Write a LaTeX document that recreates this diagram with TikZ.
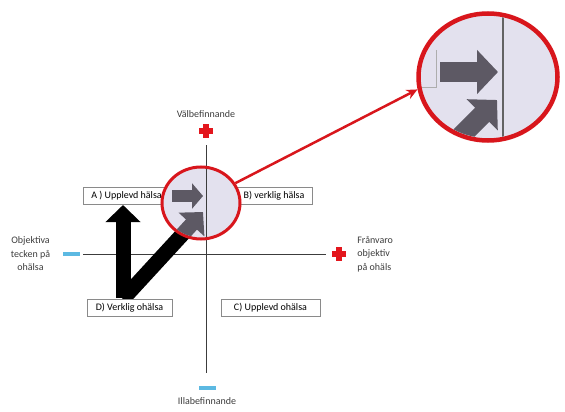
\documentclass[tikz,border=0pt]{standalone}
\usepackage{fontspec}
\setmainfont{Carlito}
\usepackage{tikz}
\usetikzlibrary{positioning, arrows.meta, shapes.geometric}
\definecolor{inkAxis}{HTML}{3C3C3C}
\definecolor{boxGray}{HTML}{8A8A8A}
\definecolor{crossRed}{HTML}{E3161D}
\definecolor{minusBlue}{HTML}{5CB9E2}
\definecolor{lensRed}{HTML}{D8161C}
\definecolor{lensFill}{HTML}{E3E1EE}
\definecolor{arrowGray}{HTML}{5D5964}
\tikzset{
  axis/.style={inkAxis, line width=1pt},
  quadbox/.style={rectangle, draw=boxGray, fill=white, line width=0.7pt,
    minimum height=17pt, inner sep=1pt, font=\fontsize{10}{12}\selectfont},
  axislabel/.style={font=\fontsize{10}{13.5}\selectfont, align=center,
    inner sep=0pt, text=inkAxis},
  plussign/.style={minimum size=14pt, inner sep=0pt,
    path picture={
      \fill[crossRed] ([shift={(-7pt,-2.6pt)}]path picture bounding box.center)
        rectangle ([shift={(7pt,2.6pt)}]path picture bounding box.center);
      \fill[crossRed] ([shift={(-2.6pt,-7pt)}]path picture bounding box.center)
        rectangle ([shift={(2.6pt,7pt)}]path picture bounding box.center);
    }},
  minussign/.style={rectangle, fill=minusBlue, minimum width=17pt,
    minimum height=4pt, inner sep=0pt},
  lens/.style={ellipse, draw=lensRed, fill=lensFill, line width=3pt,
    inner sep=0pt},
  bigarrow/.style={line width=15pt, -{Triangle[length=17pt, width=34pt]}},
  zoomarrow/.style={arrowGray, line width=20pt,
    -{Triangle[length=21pt, width=43pt]}},
  zoomline/.style={lensRed, line width=2.5pt,
    -{Stealth[length=11pt, width=10pt]}},
}

\begin{document}
\begin{tikzpicture}[x=1pt, y=-1pt]
    \useasboundingbox (0,0) rectangle (565,412);
    % axes
    \coordinate (yTop) at (206,145);
    \coordinate (yBot) at (206,373);
    \coordinate (xLeft) at (83,254);
    \coordinate (xRight) at (326,254);
    \draw[axis] (yTop) -- (yBot);
    \draw[axis] (xLeft) -- (xRight);

    % signs and their labels
    \node[plussign] (plusTop) at (206,131) {};
    \node[axislabel, above=6pt of plusTop] (wellLbl) {Välbefinnande};
    \node[minussign] (minusBot) at (207,388) {};
    \node[axislabel, below=7pt of minusBot] (illLbl) {Illabefinnande};
    \node[minussign] (minusLeft) at (71,254) {};
    \node[axislabel, left=12pt of minusLeft] (objLbl)
      {Objektiva\\tecken på\\ohälsa};
    \node[plussign] (plusRight) at (339,254) {};
    \node[axislabel, right=11pt of plusRight, align=left] (absLbl)
      {Frånvaro\\objektiv\\på ohäls};

    % quadrant boxes
    \node[quadbox, minimum width=87pt] (boxA) at (126.5,196) {A ) Upplevd hälsa};
    \node[quadbox, minimum width=76pt] (boxB) at (274,196) {B) verklig hälsa};

    % black arrows
    \coordinate (vStart) at (123,298);
    \coordinate (vTip) at (123,205);
    \coordinate (dStart) at (123,299);
    \coordinate (dTip) at (203,212);
    \draw[bigarrow] (vStart) -- (vTip);
    \draw[bigarrow] (dStart) -- (dTip);

    \node[quadbox, minimum width=85pt] (boxD) at (129.5,307.5) {D) Verklig ohälsa};
    \node[quadbox, minimum width=99pt] (boxC) at (270.5,307.5) {C) Upplevd ohälsa};

    % small lens
    \node[lens, minimum width=78pt, minimum height=72pt] (lensS) at (201,203) {};
    \begin{scope}
      \clip (lensS.center) ellipse [x radius=37.5pt, y radius=34.5pt];
      \draw[axis] (yTop) -- (yBot);
      \coordinate (hStart) at (172,196);
      \coordinate (hTip) at (203,196);
      \draw[arrowGray, line width=12pt, -{Triangle[length=11pt, width=25pt]}]
        (hStart) -- (hTip);
      \draw[bigarrow, arrowGray] (dStart) -- (dTip);
    \end{scope}

    % big lens
    \node[lens, line width=4.5pt, minimum width=139pt, minimum height=127pt]
      (lensB) at (488,77) {};
    \begin{scope}
      \clip (lensB.center) ellipse [x radius=67pt, y radius=61pt];
      \coordinate (bTop) at (503,0);
      \coordinate (bBot) at (503,160);
      \draw[inkAxis!80, line width=1.6pt] (bTop) -- (bBot);
      \coordinate (bCornerT) at (436,50);
      \coordinate (bCorner) at (436,87);
      \coordinate (bCornerL) at (410,87);
      \draw[boxGray!70, line width=0.8pt] (bCornerT) -- (bCorner) -- (bCornerL);
      \coordinate (bhStart) at (440,72);
      \coordinate (bhTip) at (498,72);
      \draw[zoomarrow] (bhStart) -- (bhTip);
      \coordinate (bdStart) at (430,167);
      \coordinate (bdTip) at (497,100);
      \draw[zoomarrow] (bdStart) -- (bdTip);
    \end{scope}

    % zoom connector
    \draw[zoomline] (lensS.30) -- (lensB.190);
  \end{tikzpicture}
\end{document}
